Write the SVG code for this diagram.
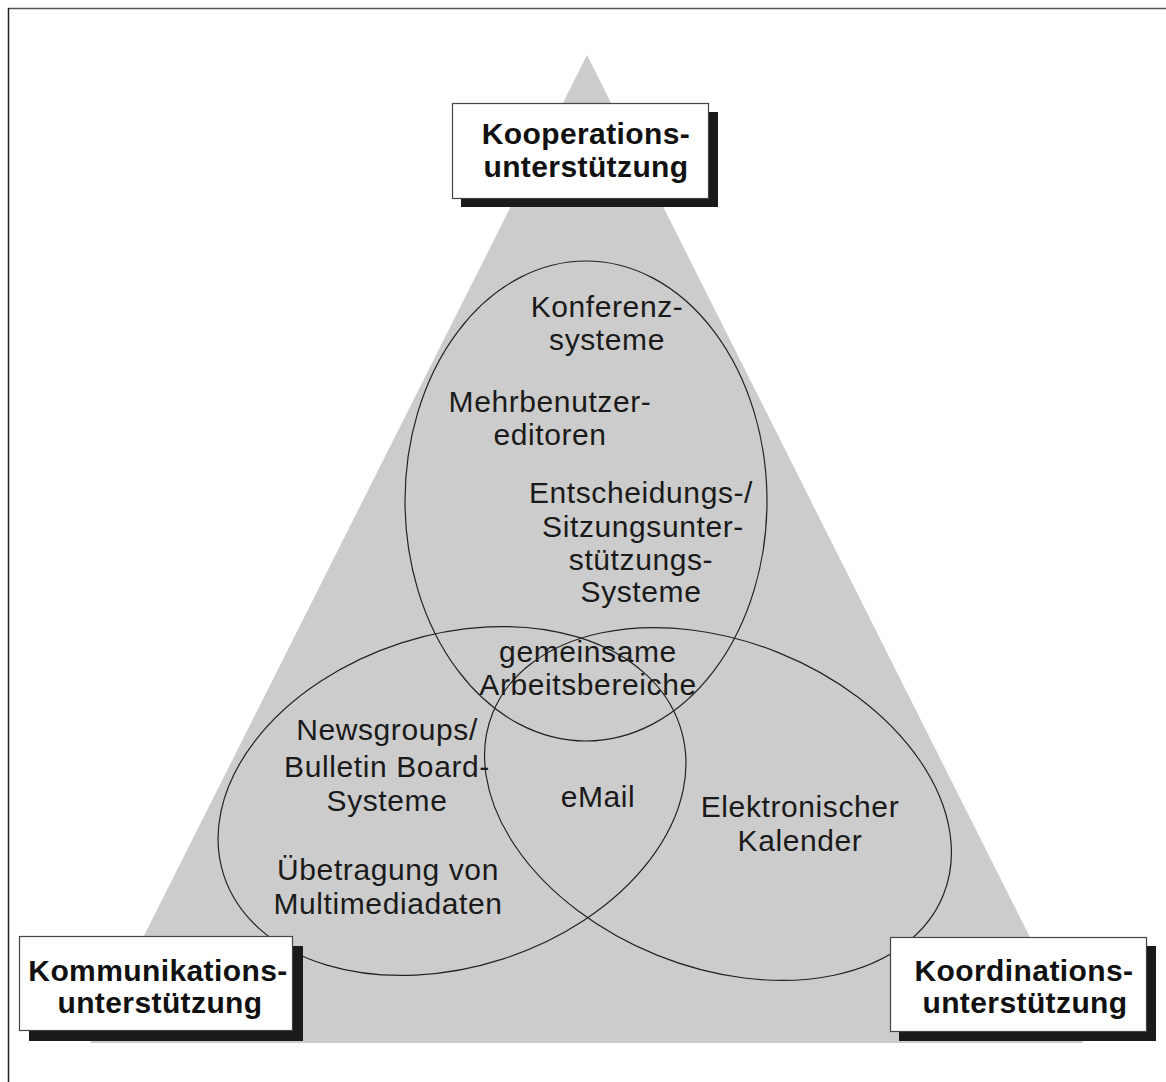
<svg xmlns="http://www.w3.org/2000/svg" width="1166" height="1082" viewBox="0 0 1166 1082">
<style>
.lbl{font-family:"Liberation Sans",Arial,sans-serif;font-size:30px;letter-spacing:0.6px;fill:#1a1a1a;text-anchor:middle}
.hd{font-family:"Liberation Sans",Arial,sans-serif;font-size:30px;font-weight:bold;letter-spacing:0.4px;fill:#111;text-anchor:middle}
.ell{fill:none;stroke:#222;stroke-width:1.2}
.box{fill:#fff;stroke:#444;stroke-width:1.2}
.shadow{fill:#1a1a1a}
</style>
<rect width="1166" height="1082" fill="#fff"/>
<line x1="8" y1="8.5" x2="1166" y2="8.5" stroke="#555" stroke-width="1.5"/>
<line x1="8.5" y1="8" x2="8.5" y2="1082" stroke="#222" stroke-width="1.5"/>
<polygon id="triangle" points="587,55 90,1043 1083,1043" fill="#cccccc"/>
<g id="sets">
<ellipse id="set-top" class="ell" cx="586" cy="501" rx="181" ry="240"/>
<ellipse id="set-left" class="ell" cx="452" cy="801" rx="240" ry="166" transform="rotate(-18 452 801)"/>
<ellipse id="set-right" class="ell" cx="718" cy="804" rx="243" ry="163" transform="rotate(22 718 804)"/>
</g>
<g id="labels">
<g id="konferenz"><text class="lbl" x="607" y="317">Konferenz-</text><text class="lbl" x="607" y="350">systeme</text></g>
<g id="mehrbenutzer"><text class="lbl" x="550" y="412">Mehrbenutzer-</text><text class="lbl" x="550" y="445">editoren</text></g>
<g id="entscheidung"><text class="lbl" x="641" y="503">Entscheidungs-/</text><text class="lbl" x="643" y="537">Sitzungsunter-</text><text class="lbl" x="641" y="570">stützungs-</text><text class="lbl" x="641" y="602">Systeme</text></g>
<g id="gemeinsam"><text class="lbl" x="588" y="662">gemeinsame</text><text class="lbl" x="588" y="695">Arbeitsbereiche</text></g>
<g id="newsgroups"><text class="lbl" x="387" y="740">Newsgroups/</text><text class="lbl" x="387" y="777">Bulletin Board-</text><text class="lbl" x="387" y="811">Systeme</text></g>
<g id="multimedia"><text class="lbl" x="388" y="880">Übetragung von</text><text class="lbl" x="388" y="914">Multimediadaten</text></g>
<g id="email"><text class="lbl" x="598" y="807">eMail</text></g>
<g id="kalender"><text class="lbl" x="800" y="817">Elektronischer</text><text class="lbl" x="800" y="851">Kalender</text></g>
</g>
<g id="kooperation">
<rect class="shadow" x="461" y="112" width="257" height="95"/>
<rect class="box" x="452.5" y="103.5" width="256" height="95"/>
<text class="hd" x="586" y="144">Kooperations-</text>
<text class="hd" x="586" y="177">unterstützung</text>
</g>
<g id="kommunikation">
<rect class="shadow" x="29" y="946" width="274" height="95"/>
<rect class="box" x="19.5" y="936.5" width="273" height="94"/>
<text class="hd" x="158" y="981">Kommunikations-</text>
<text class="hd" x="160" y="1013">unterstützung</text>
</g>
<g id="koordination">
<rect class="shadow" x="899" y="946" width="257" height="95"/>
<rect class="box" x="890.5" y="937.5" width="256" height="94"/>
<text class="hd" x="1024" y="981">Koordinations-</text>
<text class="hd" x="1025" y="1013">unterstützung</text>
</g>
</svg>
